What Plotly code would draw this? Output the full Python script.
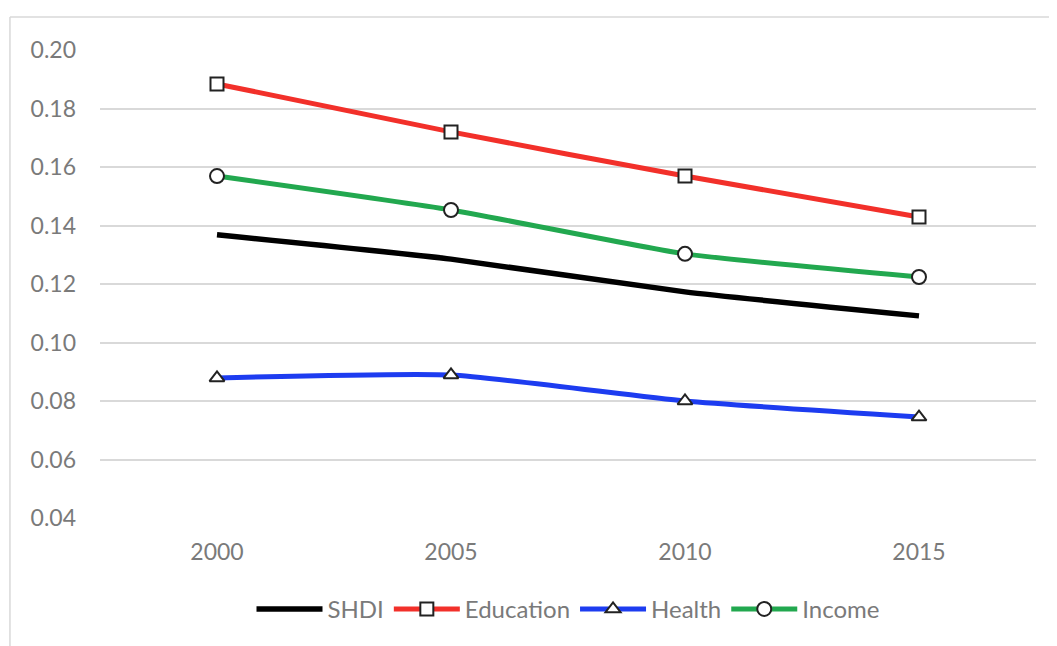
import plotly.graph_objects as go

years = ["2000", "2005", "2010", "2015"]
shdi = [0.1368, 0.1285, 0.1173, 0.1091]
education = [0.1884, 0.1720, 0.1569, 0.1429]
health = [0.0879, 0.0889, 0.0800, 0.0745]
income = [0.1569, 0.1453, 0.1303, 0.1224]
y_ticks = [0.04, 0.06, 0.08, 0.10, 0.12, 0.14, 0.16, 0.18, 0.20]

FONT = "Lato"
GREY = "#7a7a7a"

fig = go.Figure()
fig.add_trace(go.Scatter(x=years, y=shdi, name="SHDI", mode="lines",
                         line=dict(color="#000000", width=5.5, shape="spline", smoothing=0.5)))
fig.add_trace(go.Scatter(x=years, y=education, name="Education", mode="lines+markers",
                         line=dict(color="#f2302a", width=5, shape="spline", smoothing=0.5),
                         marker=dict(symbol="square", size=13, color="white",
                                     line=dict(color="#222222", width=2))))
fig.add_trace(go.Scatter(x=years, y=health, name="Health", mode="lines+markers",
                         line=dict(color="#1d3cf0", width=5, shape="spline", smoothing=0.5),
                         marker=dict(symbol="triangle-up", size=13, color="white",
                                     line=dict(color="#222222", width=2))))
fig.add_trace(go.Scatter(x=years, y=income, name="Income", mode="lines+markers",
                         line=dict(color="#22a84f", width=5, shape="spline", smoothing=0.5),
                         marker=dict(symbol="circle", size=14, color="white",
                                     line=dict(color="#222222", width=2))))

fig.update_layout(
    width=1057, height=646,
    margin=dict(l=92, r=29, t=42, b=136),
    paper_bgcolor="white", plot_bgcolor="white",
    font=dict(family=FONT, size=23, color=GREY),
    showlegend=True,
    legend=dict(orientation="h", x=0.5, xanchor="center", y=-0.147, yanchor="top",
                font=dict(family=FONT, size=24, color=GREY), traceorder="normal",
                itemwidth=66),
    xaxis=dict(type="category", range=[-0.5, 3.5], showgrid=False, zeroline=False,
               showline=False, ticks="", ticklabelstandoff=18,
               tickfont=dict(family=FONT, size=23, color=GREY)),
    yaxis=dict(range=[0.04, 0.20], tickvals=y_ticks, tickformat=".2f",
               showgrid=True, gridcolor="#d9d9d9", gridwidth=1.5, zeroline=False,
               showline=False, ticks="", ticklabelstandoff=23,
               tickfont=dict(family=FONT, size=23, color=GREY)),
    shapes=[
        dict(type="line", xref="paper", yref="paper", x0=-0.0962, x1=1.015, y0=1.0705, y1=1.0705,
             line=dict(color="#d9d9d9", width=1.5)),
        dict(type="line", xref="paper", yref="paper", x0=-0.0962, x1=-0.0962, y0=1.0705, y1=-0.35,
             line=dict(color="#d9d9d9", width=1.5)),
    ],
)

fig.write_html("out.html")
